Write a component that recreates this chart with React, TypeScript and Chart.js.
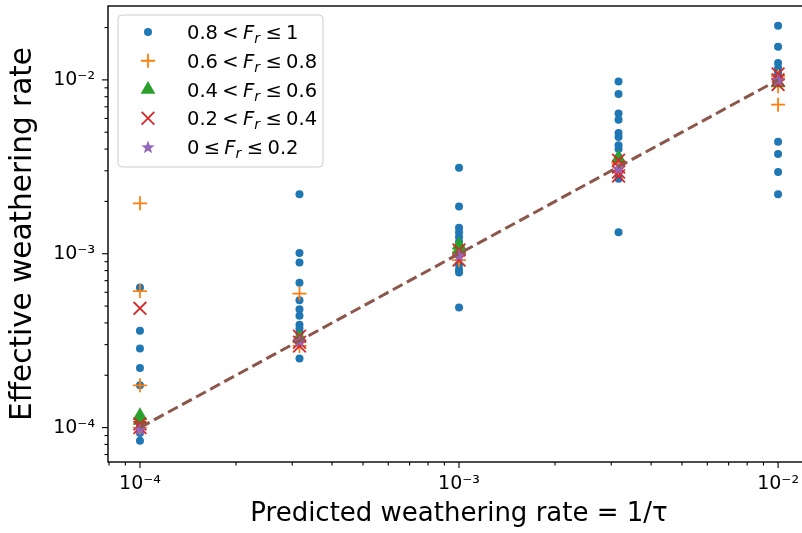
import React, { useEffect, useRef } from 'react';
import { Chart, registerables } from 'chart.js';
import { drawPoint } from 'chart.js/helpers';

Chart.register(...registerables);

// Predicted weathering rate levels (x)
const xLevels = [1e-4, 3.162e-4, 1e-3, 3.162e-3, 1e-2];

// Effective weathering rate per x level, for each F_r class
const frClass1 = [ // 0.8 < Fr <= 1
  [6.4e-4, 3.6e-4, 2.85e-4, 2.2e-4, 1.75e-4, 1.08e-4, 1.0e-4, 9.3e-5, 8.4e-5],
  [2.2e-3, 1.01e-3, 8.9e-4, 6.8e-4, 5.4e-4, 4.8e-4, 4.4e-4, 3.9e-4, 3.7e-4, 3.5e-4, 3.3e-4, 2.5e-4],
  [3.12e-3, 1.87e-3, 1.41e-3, 1.33e-3, 1.25e-3, 1.17e-3, 1.1e-3, 8.6e-4, 8.1e-4, 7.8e-4, 4.9e-4],
  [9.8e-3, 8.3e-3, 6.4e-3, 5.9e-3, 4.95e-3, 4.7e-3, 4.2e-3, 4.0e-3, 3.6e-3, 2.7e-3, 1.33e-3],
  [2.05e-2, 1.55e-2, 1.25e-2, 1.17e-2, 1.1e-2, 1.05e-2, 4.4e-3, 3.75e-3, 2.95e-3, 2.2e-3],
];
const frClass2 = [ // 0.6 < Fr <= 0.8
  [1.95e-3, 6.1e-4, 1.75e-4, 1.0e-4],
  [5.9e-4, 2.95e-4],
  [9.2e-4, 1.02e-3],
  [3.3e-3],
  [7.2e-3, 9.2e-3, 1.05e-2],
];
const frClass3 = [ // 0.4 < Fr <= 0.6
  [1.17e-4, 1.1e-4],
  [3.3e-4],
  [1.12e-3, 1.05e-3],
  [3.55e-3],
  [9.6e-3],
];
const frClass4 = [ // 0.2 < Fr <= 0.4
  [4.85e-4, 1.05e-4, 1.0e-4],
  [3.35e-4, 3.1e-4, 2.95e-4],
  [1.05e-3, 9.2e-4],
  [3.45e-3, 3.15e-3, 2.95e-3, 2.8e-3],
  [1.08e-2, 1.0e-2, 9.4e-3],
];
const frClass5 = [ // 0 <= Fr <= 0.2
  [9.8e-5],
  [3.15e-4],
  [9.8e-4],
  [3.1e-3],
  [1.0e-2],
];

// 1:1 reference line
const refLineX = [1e-4, 1e-2];
const refLineY = [1e-4, 1e-2];

// axis limits
const xLimits = [7.94e-5, 1.259e-2];
const yLimits = [6.34e-5, 2.66e-2];

// tick labels (powers of ten)
const majorTickValues = [1e-5, 1e-4, 1e-3, 1e-2, 1e-1];
const majorTickLabels = ['10⁻⁵', '10⁻⁴', '10⁻³', '10⁻²', '10⁻¹'];

// legend text pieces
const legendLow = ['0.8', '0.6', '0.4', '0.2', '0'];
const legendLowOp = ['<', '<', '<', '<', '≤'];
const legendHigh = ['1', '0.8', '0.6', '0.4', '0.2'];

const C_BLUE = '#1f77b4';
const C_ORANGE = '#ff7f0e';
const C_GREEN = '#2ca02c';
const C_RED = '#d62728';
const C_PURPLE = '#9467bd';
const C_BROWN = '#8c564b';

const FONT = '"DejaVu Sans", sans-serif';

function toPoints(groups: number[][]) {
  const pts: { x: number; y: number }[] = [];
  groups.forEach((ys, i) => ys.forEach((y) => pts.push({ x: xLevels[i], y })));
  return pts;
}

function makeStar(color: string, outer: number) {
  const c = document.createElement('canvas');
  const s = Math.ceil(outer * 2 + 2);
  c.width = s;
  c.height = s;
  const g = c.getContext('2d')!;
  const cx = s / 2, cy = s / 2 + outer * 0.08;
  const inner = outer * 0.42;
  g.beginPath();
  for (let i = 0; i < 10; i++) {
    const r = i % 2 === 0 ? outer : inner;
    const a = -Math.PI / 2 + (i * Math.PI) / 5;
    const px = cx + r * Math.cos(a), py = cy + r * Math.sin(a);
    if (i === 0) g.moveTo(px, py); else g.lineTo(px, py);
  }
  g.closePath();
  g.fillStyle = color;
  g.fill();
  return c;
}

function logTicks(min: number, max: number) {
  const out: { value: number; major: boolean }[] = [];
  for (let e = -6; e <= 0; e++) {
    for (let m = 1; m <= 9; m++) {
      const v = m * Math.pow(10, e);
      if (v >= min * 0.9999 && v <= max * 1.0001) out.push({ value: v, major: m === 1 });
    }
  }
  return out;
}

function tickLabel(v: number) {
  for (let i = 0; i < majorTickValues.length; i++) {
    if (Math.abs(v / majorTickValues[i] - 1) < 1e-6) return majorTickLabels[i];
  }
  return '';
}

function noAutoPadding(s: any) {
  s.paddingTop = 0;
  s.paddingBottom = 0;
  s.paddingLeft = 0;
  s.paddingRight = 0;
}

export default function App() {
  const ref = useRef<HTMLCanvasElement>(null);

  useEffect(() => {
    document.body.style.margin = '0';
    const canvas = ref.current!;
    const star = makeStar(C_PURPLE, 7);

    const markerStyles: any[] = [
      { pointStyle: 'circle', radius: 4, fill: C_BLUE, stroke: C_BLUE, borderWidth: 0 },
      { pointStyle: 'cross', radius: 7, fill: C_ORANGE, stroke: C_ORANGE, borderWidth: 1.8 },
      { pointStyle: 'triangle', radius: 8.5, fill: C_GREEN, stroke: C_GREEN, borderWidth: 0 },
      { pointStyle: 'crossRot', radius: 9, fill: C_RED, stroke: C_RED, borderWidth: 1.8 },
      { pointStyle: star, radius: 7, fill: C_PURPLE, stroke: C_PURPLE, borderWidth: 0 },
    ];
    const groups = [frClass1, frClass2, frClass3, frClass4, frClass5];

    const scatterSets = groups.map((g, i) => ({
      type: 'scatter' as const,
      label: `${legendLow[i]} ${legendLowOp[i]} Fr ≤ ${legendHigh[i]}`,
      data: toPoints(g),
      pointStyle: markerStyles[i].pointStyle,
      pointRadius: markerStyles[i].radius,
      pointBackgroundColor: markerStyles[i].fill,
      pointBorderColor: markerStyles[i].stroke,
      pointBorderWidth: markerStyles[i].borderWidth,
      showLine: false,
      order: 5 - i,
    }));

    const lineSet = {
      type: 'line' as const,
      label: '1:1',
      data: refLineX.map((x, i) => ({ x, y: refLineY[i] })),
      borderColor: C_BROWN,
      borderWidth: 3,
      borderDash: [11, 5],
      pointRadius: 0,
      fill: false,
      order: 0,
    };

    const decor = {
      id: 'decor',
      afterDraw(chart: any) {
        const { ctx, chartArea: a } = chart;
        const xs = chart.scales.x, ys = chart.scales.y;
        ctx.save();
        ctx.strokeStyle = '#000';
        ctx.lineWidth = 1.1;
        for (const t of xs.ticks) {
          const p = xs.getPixelForValue(t.value);
          const len = t.major ? 6 : 3.5;
          ctx.beginPath();
          ctx.moveTo(p, a.bottom);
          ctx.lineTo(p, a.bottom + len);
          ctx.stroke();
        }
        for (const t of ys.ticks) {
          const p = ys.getPixelForValue(t.value);
          const len = t.major ? 6 : 3.5;
          ctx.beginPath();
          ctx.moveTo(a.left, p);
          ctx.lineTo(a.left - len, p);
          ctx.stroke();
        }
        ctx.lineWidth = 1.4;
        ctx.strokeRect(a.left, a.top, a.right - a.left, a.bottom - a.top);

        // legend
        const bx = 118, by = 15, bw = 205, bh = 152, r = 4;
        ctx.beginPath();
        ctx.moveTo(bx + r, by);
        ctx.arcTo(bx + bw, by, bx + bw, by + bh, r);
        ctx.arcTo(bx + bw, by + bh, bx, by + bh, r);
        ctx.arcTo(bx, by + bh, bx, by, r);
        ctx.arcTo(bx, by, bx + bw, by, r);
        ctx.closePath();
        ctx.fillStyle = 'rgba(255,255,255,0.8)';
        ctx.fill();
        ctx.strokeStyle = '#cccccc';
        ctx.lineWidth = 1;
        ctx.stroke();

        const fs = 19.5;
        const rowStart = 32, rowStep = 28.75;
        for (let i = 0; i < 5; i++) {
          const cy = rowStart + i * rowStep;
          const s = markerStyles[i];
          ctx.fillStyle = s.fill;
          ctx.strokeStyle = s.stroke;
          ctx.lineWidth = s.borderWidth;
          drawPoint(ctx, { pointStyle: s.pointStyle, radius: s.radius, rotation: 0, borderWidth: s.borderWidth } as any, 148, cy);

          ctx.fillStyle = '#000';
          ctx.textBaseline = 'alphabetic';
          ctx.textAlign = 'left';
          const base = cy + fs * 0.365;
          const gap = fs * 0.22;
          let x = 187;
          ctx.font = `${fs}px ${FONT}`;
          ctx.fillText(legendLow[i], x, base);
          x += ctx.measureText(legendLow[i]).width + gap;
          ctx.fillText(legendLowOp[i], x, base);
          x += ctx.measureText(legendLowOp[i]).width + gap;
          ctx.font = `italic ${fs}px ${FONT}`;
          ctx.fillText('F', x, base);
          x += ctx.measureText('F').width;
          ctx.font = `italic ${Math.round(fs * 0.7)}px ${FONT}`;
          ctx.fillText('r', x, base + fs * 0.2);
          x += ctx.measureText('r').width + gap * 1.3;
          ctx.font = `${fs}px ${FONT}`;
          ctx.fillText('≤', x, base);
          x += ctx.measureText('≤').width + gap;
          ctx.fillText(legendHigh[i], x, base);
        }
        ctx.restore();
      },
    };

    const chart = new Chart(canvas, {
      data: { datasets: [...scatterSets, lineSet] as any },
      options: {
        responsive: false,
        animation: false,
        layout: { autoPadding: false, padding: { top: 6, right: 2, left: 0, bottom: 0 } },
        plugins: { legend: { display: false }, tooltip: { enabled: false } },
        scales: {
          x: {
            type: 'logarithmic',
            min: xLimits[0],
            max: xLimits[1],
            afterBuildTicks: (s: any) => { s.ticks = logTicks(xLimits[0], xLimits[1]); },
            afterFit: (s: any) => { s.height = 71; noAutoPadding(s); },
            grid: { display: false, drawTicks: false },
            border: { display: false },
            ticks: {
              autoSkip: false,
              maxRotation: 0,
              minRotation: 0,
              padding: 11,
              color: '#000',
              font: { family: FONT, size: 19 },
              callback: (v: any) => tickLabel(Number(v)),
            },
            title: {
              display: true,
              text: 'Predicted weathering rate = 1/τ',
              color: '#000',
              font: { family: FONT, size: 26 },
              padding: { top: 0, bottom: 3 },
            },
          },
          y: {
            type: 'logarithmic',
            min: yLimits[0],
            max: yLimits[1],
            afterBuildTicks: (s: any) => { s.ticks = logTicks(yLimits[0], yLimits[1]); },
            afterFit: (s: any) => { s.width = 108; noAutoPadding(s); },
            grid: { display: false, drawTicks: false },
            border: { display: false },
            ticks: {
              autoSkip: false,
              padding: 13,
              color: '#000',
              font: { family: FONT, size: 19 },
              callback: (v: any) => tickLabel(Number(v)),
            },
            title: {
              display: true,
              text: 'Effective weathering rate',
              color: '#000',
              font: { family: FONT, size: 29.5 },
              padding: { top: 6, bottom: 0 },
            },
          },
        },
      } as any,
      plugins: [decor],
    });
    return () => chart.destroy();
  }, []);

  return (
    <div style={{ width: 802, height: 533, overflow: 'hidden' }}>
      <canvas ref={ref} width={812} height={533} style={{ display: 'block' }} />
    </div>
  );
}
